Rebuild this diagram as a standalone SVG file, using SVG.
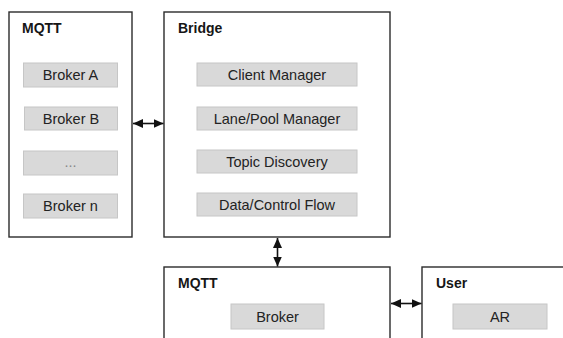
<svg xmlns="http://www.w3.org/2000/svg" width="563" height="338" viewBox="0 0 563 338">
  <style>
    .frame { fill: #ffffff; stroke: #2b2b2b; stroke-width: 1.4; }
    .item { fill: #d9d9d9; stroke: #c6c6c6; stroke-width: 1; }
    .title { font-family: "Liberation Sans", Arial, sans-serif; font-size: 14px; font-weight: bold; fill: #161616; }
    .label { font-family: "Liberation Sans", Arial, sans-serif; font-size: 14.5px; fill: #232323; text-anchor: middle; }
    .conn { stroke: #111111; stroke-width: 1.6; fill: none; marker-start: url(#head); marker-end: url(#head); }
  </style>
  <defs>
    <marker id="head" viewBox="0 0 10 10" refX="10" refY="5" markerWidth="10" markerHeight="10" markerUnits="userSpaceOnUse" orient="auto-start-reverse">
      <path d="M0,0.5 L10,5 L0,9.5 Z" fill="#111111"/>
    </marker>
  </defs>

  <rect width="563" height="338" fill="#ffffff"/>

  <!-- MQTT broker cluster -->
  <g id="mqtt-cluster">
    <rect class="frame" x="9" y="12" width="123" height="225"/>
    <text class="title" x="22" y="33">MQTT</text>
    <rect class="item" x="23.5" y="63" width="94" height="24"/>
    <text class="label" x="70.5" y="80">Broker A</text>
    <rect class="item" x="24.5" y="107" width="93" height="23"/>
    <text class="label" x="71" y="124">Broker B</text>
    <rect class="item" x="23.5" y="151" width="94" height="24"/>
    <text class="label" x="70.5" y="167" style="fill:#888888">...</text>
    <rect class="item" x="23.5" y="194" width="94" height="24"/>
    <text class="label" x="70.5" y="211">Broker n</text>
  </g>

  <!-- Bridge -->
  <g id="bridge">
    <rect class="frame" x="164" y="12" width="226" height="225"/>
    <text class="title" x="178" y="33">Bridge</text>
    <rect class="item" x="197" y="63" width="160" height="23"/>
    <text class="label" x="277" y="80">Client Manager</text>
    <rect class="item" x="197" y="107" width="160" height="23"/>
    <text class="label" x="277" y="124">Lane/Pool Manager</text>
    <rect class="item" x="197" y="150" width="160" height="23"/>
    <text class="label" x="277" y="167">Topic Discovery</text>
    <rect class="item" x="197" y="193" width="160" height="23"/>
    <text class="label" x="277" y="210">Data/Control Flow</text>
  </g>

  <!-- Single MQTT broker -->
  <g id="mqtt-broker">
    <rect class="frame" x="164" y="267" width="226" height="100"/>
    <text class="title" x="178" y="288">MQTT</text>
    <rect class="item" x="231" y="304" width="93" height="25"/>
    <text class="label" x="277.5" y="322">Broker</text>
  </g>

  <!-- User side -->
  <g id="user">
    <rect class="frame" x="422" y="267" width="160" height="100"/>
    <text class="title" x="436" y="288">User</text>
    <rect class="item" x="453" y="304" width="94" height="25"/>
    <text class="label" x="500" y="322">AR</text>
  </g>

  <!-- Connectors -->
  <g id="connectors">
    <line class="conn" x1="133" y1="123.5" x2="163.5" y2="123.5"/>
    <line class="conn" x1="277.5" y1="238" x2="277.5" y2="266.5"/>
    <line class="conn" x1="391" y1="303.5" x2="421.5" y2="303.5"/>
  </g>
</svg>
